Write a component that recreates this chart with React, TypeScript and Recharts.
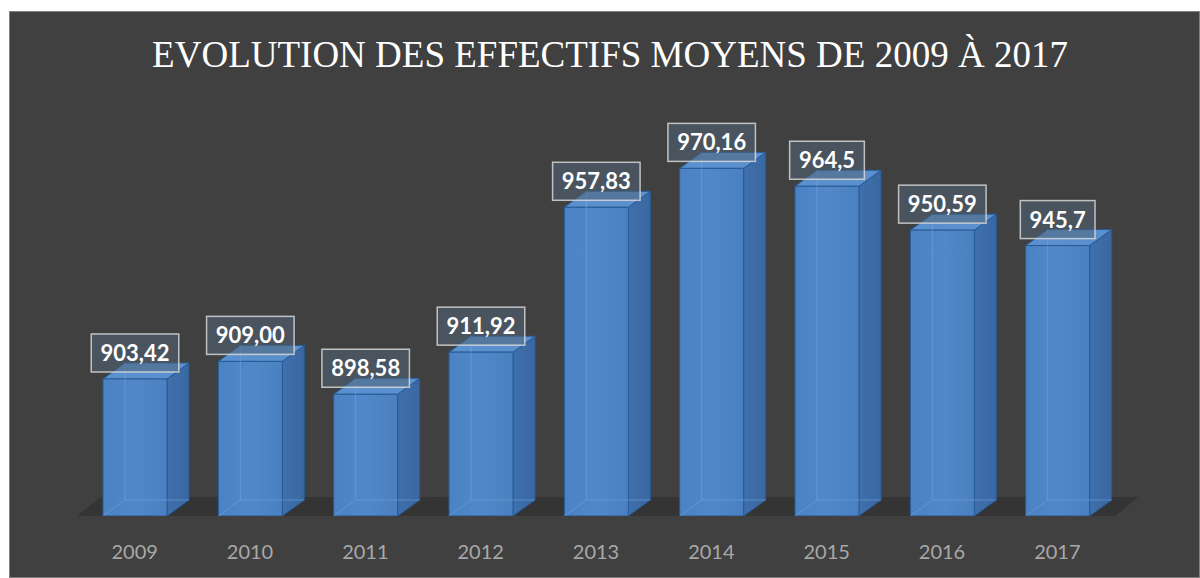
import { BarChart, Bar, XAxis, YAxis, LabelList } from "recharts";

const years = ["2009", "2010", "2011", "2012", "2013", "2014", "2015", "2016", "2017"];
const values = [903.42, 909.0, 898.58, 911.92, 957.83, 970.16, 964.5, 950.59, 945.7];
const valueLabels = ["903,42", "909,00", "898,58", "911,92", "957,83", "970,16", "964,5", "950,59", "945,7"];

const data = years.map((year, i) => ({ year, value: values[i], label: valueLabels[i] }));

const W = 1189;
const H = 565;
const margin = { top: 78, right: 84, left: 67, bottom: 21 };
const BAND = (W - margin.left - margin.right) / years.length;
const DX = 22;
const DY = 16;

function Box3D(props: any) {
  const { x, y, width: w, height: h } = props;
  const bottom = y + h;
  // floor slice for this category band
  const cx = x + w / 2;
  const bx = cx - BAND / 2;
  const fb = bottom + 4;
  const ft = fb - 23;
  const floor = `${bx - 5},${fb} ${bx + BAND - 5},${fb} ${bx + BAND + 23},${ft} ${bx + 23},${ft}`;
  const side = `${x + w},${y} ${x + w + DX},${y - DY} ${x + w + DX},${bottom - DY} ${x + w},${bottom}`;
  const top = `${x},${y} ${x + DX},${y - DY} ${x + w + DX},${y - DY} ${x + w},${y}`;
  return (
    <g>
      <polygon points={floor} fill="#343434" />
      <polygon points={side} fill="url(#sideGrad)" stroke="#275a96" strokeWidth={1} />
      <polygon points={top} fill="#5b90cf" stroke="#275a96" strokeWidth={1} />
      <rect x={x} y={y} width={w} height={h} fill="url(#frontGrad)" stroke="#275a96" strokeWidth={1} />
      {/* inner edges seen through the translucent box */}
      <line x1={x + DX} y1={y - DY} x2={x + DX} y2={bottom - DY} stroke="#74a8e2" strokeOpacity={0.55} />
      <line x1={x + DX} y1={bottom - DY} x2={x + w + DX} y2={bottom - DY} stroke="#74a8e2" strokeOpacity={0.55} />
      <line x1={x} y1={bottom} x2={x + DX} y2={bottom - DY} stroke="#74a8e2" strokeOpacity={0.55} />
    </g>
  );
}

function ValueBox(props: any) {
  const { x, y, width, value } = props;
  const s = String(value);
  const digits = s.replace(/,/g, "").length;
  const textW = digits * 12.8 + (s.length - digits) * 5.5;
  const bw = textW + 18;
  const bh = 38;
  const cx = x + width / 2;
  const by = y - 7 - bh;
  return (
    <g>
      <rect x={cx - bw / 2} y={by} width={bw} height={bh} fill="rgba(80,100,120,0.55)" stroke="rgba(215,215,215,0.85)" strokeWidth={1.5} />
      <text x={cx} y={by + bh / 2 + 8} textAnchor="middle" fill="#ffffff" fontFamily="Lato, 'Open Sans', sans-serif" fontWeight={700} fontSize={22}>
        {s}
      </text>
    </g>
  );
}

function YearTick(props: any) {
  const { x, y, payload } = props;
  return (
    <text x={x} y={y + 43} textAnchor="middle" fill="#a8a8a8" fontFamily="Lato, 'Open Sans', sans-serif" fontSize={20}>
      {payload.value}
    </text>
  );
}

export default function App() {
  return (
    <div
      style={{
        position: "absolute",
        left: 9,
        top: 11,
        width: 1191,
        height: 567,
        boxSizing: "border-box",
        border: "1px solid #808080",
        background: "#404040",
        overflow: "hidden",
      }}
    >
      <div
        style={{
          position: "absolute",
          top: 24,
          left: 0,
          right: 0,
          paddingLeft: 11,
          textAlign: "center",
          fontFamily: "'Liberation Serif', 'Times New Roman', serif",
          fontSize: 37,
          lineHeight: 1,
          color: "#ffffff",
        }}
      >
        EVOLUTION DES EFFECTIFS MOYENS DE 2009 À 2017
      </div>
      <div style={{ position: "absolute", left: 0, top: 0 }}>
        <BarChart width={W} height={H} data={data} margin={margin}>
          <defs>
            <linearGradient id="frontGrad" x1="0" y1="0" x2="1" y2="0">
              <stop offset="0%" stopColor="#4a82c4" />
              <stop offset="50%" stopColor="#5088c9" />
              <stop offset="100%" stopColor="#4a80c0" />
            </linearGradient>
            <linearGradient id="sideGrad" x1="0" y1="0" x2="1" y2="0">
              <stop offset="0%" stopColor="#3f70ad" />
              <stop offset="100%" stopColor="#3a67a0" />
            </linearGradient>
          </defs>
          <XAxis
            dataKey="year"
            height={40}
            axisLine={false}
            tickLine={false}
            tickSize={0}
            tickMargin={0}
            interval={0}
            tick={<YearTick />}
          />
          <YAxis hide domain={[860, 995]} allowDataOverflow />
          <Bar dataKey="value" barSize={64} shape={<Box3D />} isAnimationActive={false}>
            <LabelList dataKey="label" content={<ValueBox />} />
          </Bar>
        </BarChart>
      </div>
    </div>
  );
}
